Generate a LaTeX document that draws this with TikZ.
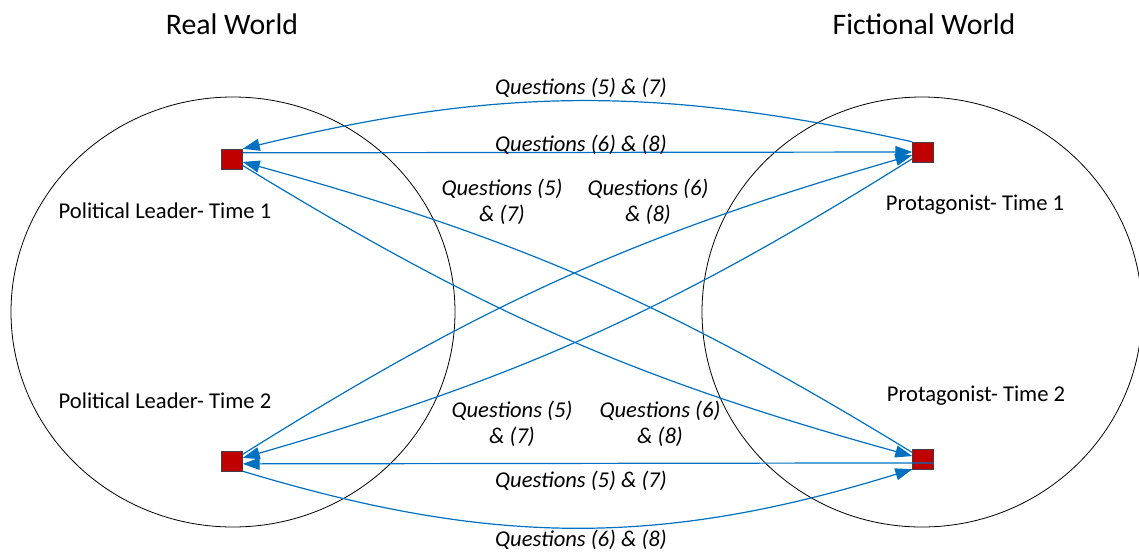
\documentclass[tikz,border=0pt]{standalone}
\usepackage{fontspec}
\setmainfont{Carlito}
\usetikzlibrary{arrows.meta}
\definecolor{linkblue}{HTML}{0070C0}
\definecolor{boxred}{HTML}{C00000}
\tikzstyle{person} = [rectangle, 
minimum width=21pt, 
minimum height=20pt, 
inner sep=0pt, 
draw=black!75, 
fill=boxred]
\tikzstyle{world} = [font=\fontsize{29.8}{36}\selectfont]
\tikzstyle{who} = [font=\fontsize{22.6}{27}\selectfont]
\tikzstyle{qlabel} = [font=\fontsize{22.6}{26}\selectfont\itshape, align=center]
\tikzstyle{arrow} = [line width=1.2pt, draw=linkblue, ->, >={Triangle[length=17pt,width=12pt]}]

\begin{document}
\begin{tikzpicture}[x=1pt, y=-1pt]
        \useasboundingbox (0,0) rectangle (1139,552);
        \draw [line width=0.8pt] (233,312) ellipse [x radius=222pt, y radius=215pt];
        \draw [line width=0.8pt] (922,312) ellipse [x radius=220pt, y radius=215pt];
        \node (real) [world] at (232,24) {Real World};
        \node (fict) [world] at (924,24) {Fictional World};
        \node (l1txt) [who] at (165,211) {Political Leader- Time 1};
        \node (l2txt) [who] at (165,401) {Political Leader- Time 2};
        \node (r1txt) [who] at (975,205) {Protagonist- Time 1};
        \node (r2txt) [who] at (976,396) {Protagonist- Time 2};
        \node (l1) [person] at (232,159) {};
        \node (l2) [person] at (232,461) {};
        \node (r1) [person] at (923,152) {};
        \node (r2) [person] at (923,459) {};
        \draw [arrow] (r1.north west) to[bend right=13] (l1.north east);
        \draw [arrow] (l1.30) -- (r1.west);
        \draw [arrow] (r2) to[bend right=8] (l1);
        \draw [arrow] (l1) to[bend right=8] (r2);
        \draw [arrow] (l2) to[bend left=8] (r1);
        \draw [arrow] (r1) to[bend left=8] (l2);
        \draw [arrow] (r2.-20) -- (l2.-15);
        \draw [arrow] (l2.south east) to[bend right=17] (r2.south west);
        \node (qa) [qlabel] at (581,88) {Questions (5) \& (7)};
        \node (qb) [qlabel] at (581,145) {Questions (6) \& (8)};
        \node (qc) [qlabel] at (502,202) {Questions (5)\\\& (7)};
        \node (qd) [qlabel] at (648,202) {Questions (6)\\\& (8)};
        \node (qe) [qlabel] at (512,424) {Questions (5)\\\& (7)};
        \node (qf) [qlabel] at (660,424) {Questions (6)\\\& (8)};
        \node (qg) [qlabel] at (581,481) {Questions (5) \& (7)};
        \node (qh) [qlabel] at (581,540) {Questions (6) \& (8)};
    \end{tikzpicture}
\end{document}
